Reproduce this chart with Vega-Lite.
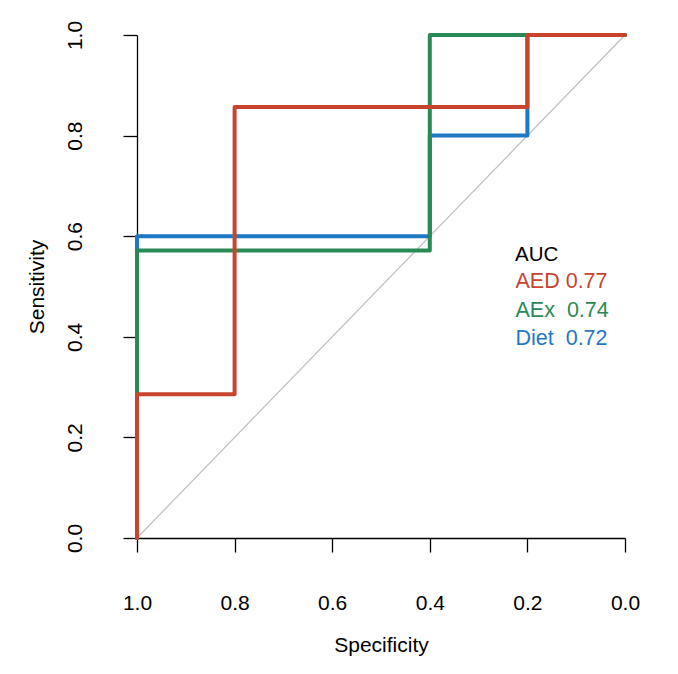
{
  "$schema": "https://vega.github.io/schema/vega-lite/v6.json",
  "description": "ROC curves: Sensitivity vs. Specificity for AED, AEx and Diet",
  "width": 488,
  "height": 503,
  "autosize": {"type": "none"},
  "padding": {"left": 137, "top": 35, "right": 53, "bottom": 136},
  "config": {
    "view": {"stroke": null},
    "font": "Liberation Sans",
    "axis": {
      "grid": false,
      "domainColor": "#000000",
      "domainWidth": 1.3,
      "tickColor": "#000000",
      "tickWidth": 1.3,
      "tickSize": 14,
      "labelFontSize": 21,
      "labelColor": "#000000",
      "labelFlush": false,
      "titleFontSize": 21,
      "titleFontWeight": "normal",
      "titleColor": "#000000"
    }
  },
  "data": {
    "values": [
      {"test": "Diet", "step": 1, "specificity": 1.0, "sensitivity": 0.0},
      {"test": "Diet", "step": 2, "specificity": 1.0, "sensitivity": 0.6},
      {"test": "Diet", "step": 3, "specificity": 0.4, "sensitivity": 0.6},
      {"test": "Diet", "step": 4, "specificity": 0.4, "sensitivity": 0.8},
      {"test": "Diet", "step": 5, "specificity": 0.2, "sensitivity": 0.8},
      {"test": "Diet", "step": 6, "specificity": 0.2, "sensitivity": 1.0},
      {"test": "Diet", "step": 7, "specificity": 0.0, "sensitivity": 1.0},
      {"test": "AEx", "step": 1, "specificity": 1.0, "sensitivity": 0.0},
      {"test": "AEx", "step": 2, "specificity": 1.0, "sensitivity": 0.5714},
      {"test": "AEx", "step": 3, "specificity": 0.4, "sensitivity": 0.5714},
      {"test": "AEx", "step": 4, "specificity": 0.4, "sensitivity": 1.0},
      {"test": "AEx", "step": 5, "specificity": 0.0, "sensitivity": 1.0},
      {"test": "AED", "step": 1, "specificity": 1.0, "sensitivity": 0.0},
      {"test": "AED", "step": 2, "specificity": 1.0, "sensitivity": 0.2857},
      {"test": "AED", "step": 3, "specificity": 0.8, "sensitivity": 0.2857},
      {"test": "AED", "step": 4, "specificity": 0.8, "sensitivity": 0.8571},
      {"test": "AED", "step": 5, "specificity": 0.2, "sensitivity": 0.8571},
      {"test": "AED", "step": 6, "specificity": 0.2, "sensitivity": 1.0},
      {"test": "AED", "step": 7, "specificity": 0.0, "sensitivity": 1.0}
    ]
  },
  "layer": [
    {
      "data": {"values": [{}]},
      "mark": {"type": "rule", "color": "#BEBEBE", "strokeWidth": 1.2},
      "encoding": {
        "x": {"datum": 1, "type": "quantitative"},
        "y": {"datum": 0, "type": "quantitative"},
        "x2": {"datum": 0},
        "y2": {"datum": 1}
      }
    },
    {
      "mark": {"type": "line", "strokeWidth": 4, "strokeCap": "round", "strokeJoin": "round"},
      "encoding": {
        "x": {
          "field": "specificity",
          "type": "quantitative",
          "title": "Specificity",
          "scale": {"domain": [0, 1], "reverse": true, "nice": false, "zero": false},
          "axis": {
            "values": [0, 0.2, 0.4, 0.6, 0.8, 1],
            "format": ".1f",
            "labelPadding": 40,
            "titlePadding": 21
          }
        },
        "y": {
          "field": "sensitivity",
          "type": "quantitative",
          "title": "Sensitivity",
          "scale": {"domain": [0, 1], "nice": false, "zero": false},
          "axis": {
            "values": [0, 0.2, 0.4, 0.6, 0.8, 1],
            "format": ".1f",
            "labelAngle": 270,
            "labelAlign": "center",
            "labelBaseline": "middle",
            "labelPadding": 48,
            "titlePadding": 17
          }
        },
        "color": {
          "field": "test",
          "type": "nominal",
          "scale": {
            "domain": ["AED", "AEx", "Diet"],
            "range": ["#C8442F", "#2A8A55", "#1F78C4"]
          },
          "legend": {
            "orient": "none",
            "legendX": 378,
            "legendY": 210,
            "padding": 0,
            "title": "AUC",
            "titleFontSize": 20.5,
            "titleFontWeight": "normal",
            "titleColor": "#000000",
            "titlePadding": 6,
            "labelFontSize": 21.5,
            "labelOffset": -21,
            "rowPadding": 5.5,
            "symbolSize": 0,
            "symbolStrokeWidth": 0,
            "symbolOpacity": 0,
            "labelExpr": "datum.label == 'AED' ? 'AED 0.77' : datum.label == 'AEx' ? 'AEx\u00a0\u00a00.74' : 'Diet\u00a0\u00a00.72'",
            "encode": {
              "labels": {"update": {"fill": {"scale": "color", "field": "value"}}}
            }
          }
        },
        "order": {"field": "step", "type": "quantitative"}
      }
    }
  ]
}
